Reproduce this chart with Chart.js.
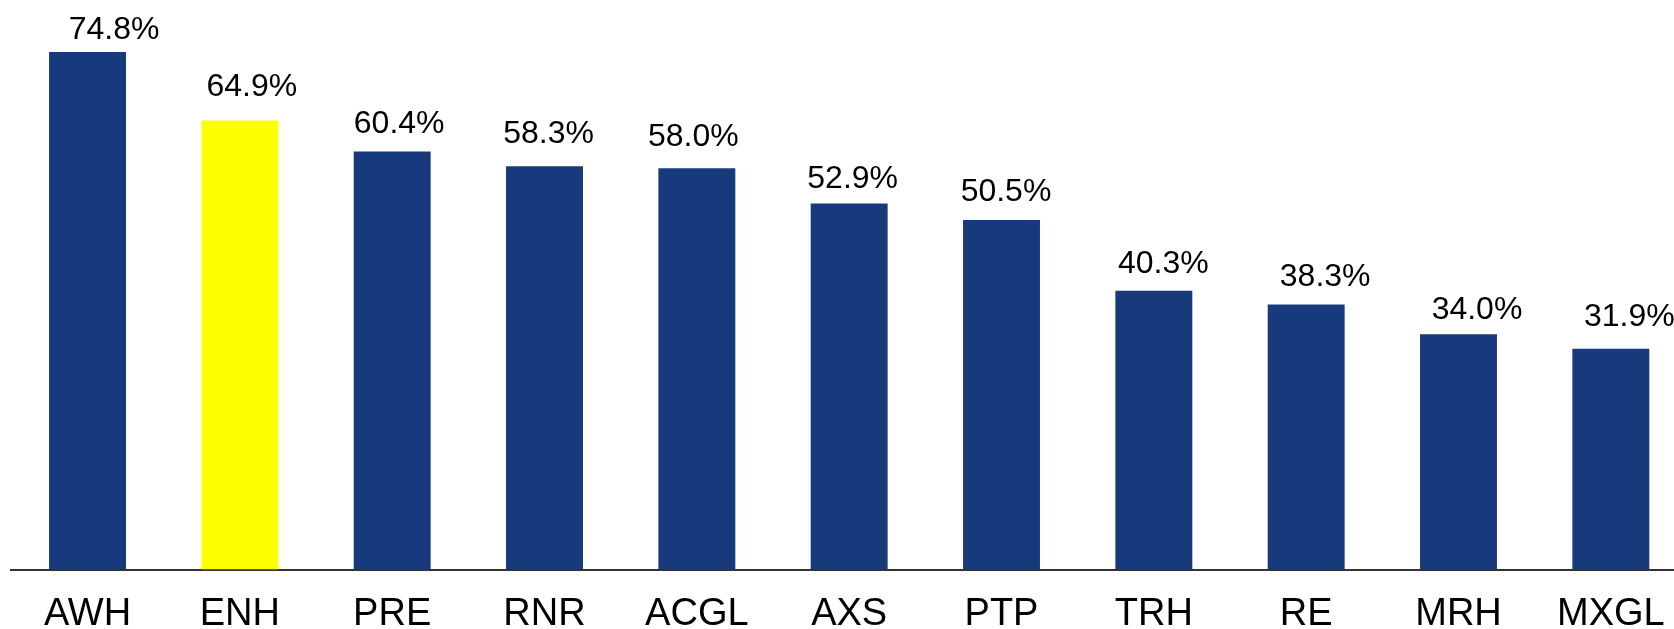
<!DOCTYPE html>
<html>
<head>
<meta charset="utf-8">
<script src="https://cdn.jsdelivr.net/npm/chart.js@4/dist/chart.umd.min.js"></script>
<style>
  html, body { margin: 0; padding: 0; background: #fff; overflow: hidden; }
  #wrap { position: relative; width: 1687px; height: 629px; }
</style>
</head>
<body>
<div id="wrap"><canvas id="c"></canvas></div>
<script>
const categories = ["AWH", "ENH", "PRE", "RNR", "ACGL", "AXS", "PTP", "TRH", "RE", "MRH", "MXGL"];
const values = [74.8, 64.9, 60.4, 58.3, 58.0, 52.9, 50.5, 40.3, 38.3, 34.0, 31.9];
const highlight = "ENH";

// label nudges relative to each bar (as seen in the reference)
const labelNudgeX = [26.5, 12, 7, 4, -3.5, 3.5, 4.5, 9.5, 19, 18.5, 18.5];
const labelGap = [13, 24, 19, 23, 22, 15, 19, 18, 19, 15, 23];

const NAVY = "#163a7c";
const YELLOW = "#ffff00";
const barColors = categories.map(c => c === highlight ? YELLOW : NAVY);

const valueLabels = {
  id: "valueLabels",
  afterDatasetsDraw(chart) {
    const ctx = chart.ctx;
    const meta = chart.getDatasetMeta(0);
    ctx.save();
    ctx.font = "32px 'Liberation Sans', Arial, sans-serif";
    ctx.fillStyle = "#000";
    ctx.textAlign = "center";
    ctx.textBaseline = "alphabetic";
    meta.data.forEach((bar, i) => {
      const v = values[i];
      ctx.fillText(v.toFixed(1) + "%", bar.x + labelNudgeX[i], bar.y - labelGap[i]);
    });
    ctx.restore();
  }
};

new Chart(document.getElementById("c"), {
  type: "bar",
  data: {
    labels: categories,
    datasets: [{
      data: values,
      backgroundColor: barColors,
      borderWidth: 0,
      categoryPercentage: 1,
      barPercentage: 0.505
    }]
  },
  options: {
    responsive: true,
    maintainAspectRatio: false,
    animation: false,
    layout: { padding: { left: 11.35, right: 0, top: 16, bottom: 0 } },
    plugins: { legend: { display: false }, tooltip: { enabled: false } },
    scales: {
      x: {
        grid: { display: false, drawTicks: false },
        border: { display: true, color: "#333333", width: 2 },
        ticks: {
          color: "#000",
          padding: 22,
          font: { family: "'Liberation Sans', Arial, sans-serif", size: 38 }
        },
        afterFit(axis) { axis.height = 59.5; }
      },
      y: {
        display: false,
        min: 0,
        max: 80
      }
    }
  },
  plugins: [valueLabels]
});
</script>
</body>
</html>
